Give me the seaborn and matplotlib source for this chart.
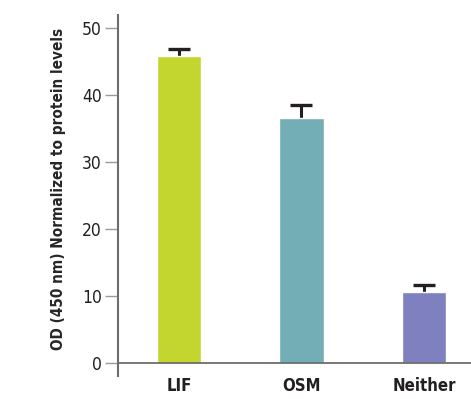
import matplotlib
matplotlib.use("Agg")
import matplotlib.pyplot as plt
import pandas as pd
import seaborn as sns

groups = ["LIF", "OSM", "Neither"]
od_values = [45.8, 36.6, 10.6]
err_upper = [1.1, 1.9, 1.0]
bar_colors = ["#C3D62F", "#73AEB6", "#7F80BF"]

sns.set_style("white")
plt.rcParams["font.family"] = ["DejaVu Sans"]
plt.rcParams["font.stretch"] = "condensed"

df = pd.DataFrame({"group": groups, "od": od_values})

fig = plt.figure(figsize=(4.71, 3.99), dpi=100)
ax = fig.add_axes([0.2505, 0.0576, 0.7495, 0.9048])

sns.barplot(data=df, x="group", y="od", hue="group", palette=bar_colors,
            width=0.36, legend=False, ax=ax, saturation=1, zorder=2)

# upper half error bars only
xs = list(range(len(groups)))
tops = [v + e for v, e in zip(od_values, err_upper)]
ax.vlines(xs, od_values, tops, color="#231F20", lw=2.2, zorder=1)
ax.hlines(tops, [x - 0.09 for x in xs], [x + 0.09 for x in xs],
          color="#231F20", lw=2.4, zorder=1)
ax.axhline(0, color="#6d6d6d", lw=1.3, zorder=3)

ax.set_xlim(-0.498, 2.384)
ax.set_ylim(-1.94, 51.9)
ax.set_yticks([0, 10, 20, 30, 40, 50])
ax.set_xlabel("")
ax.set_ylabel("OD (450 nm) Normalized to protein levels", fontsize=11,
              fontweight="bold")
ax.yaxis.set_label_coords(-0.147, 0.518)

for side in ["top", "right", "bottom"]:
    ax.spines[side].set_visible(False)
ax.spines["left"].set_color("#6d6d6d")
ax.spines["left"].set_linewidth(1.5)

ax.tick_params(axis="y", length=9.5, width=1.0, color="#9a9a9a", labelsize=12.5,
               labelcolor="#231F20", pad=2, left=True)
ax.tick_params(axis="x", length=0, labelsize=12, labelcolor="#231F20", pad=1)
for lbl in ax.get_xticklabels():
    lbl.set_fontweight("bold")

fig.savefig("out.png", dpi=100)
